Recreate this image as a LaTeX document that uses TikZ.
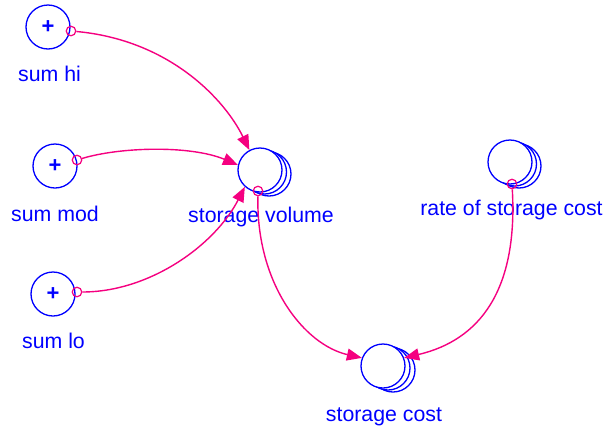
\documentclass[tikz,border=0pt]{standalone}
\usepackage{fontspec}
\setmainfont{Liberation Sans}
\usetikzlibrary{arrows.meta}
\definecolor{pk}{RGB}{245,0,128}
\begin{document}
\begin{tikzpicture}[x=1pt,y=-1pt,
  aux/.style={circle,draw=blue,line width=1.3pt,fill=white,minimum size=44pt,inner sep=0pt,text=blue,font=\fontsize{22}{22}\selectfont\bfseries},
  lab/.style={text=blue,font=\fontsize{21.3}{24}\selectfont,anchor=base,inner sep=0pt},
  tap/.style={circle,draw=pk,line width=1.2pt,minimum size=9.5pt,inner sep=0pt},
  link/.style={draw=pk,line width=1.4pt,-{Triangle[length=15pt,width=12pt]}}]
\useasboundingbox (0,0) rectangle (606,429);
\fill[white] (0,0) rectangle (606,429);
% sum hi
\node[aux] (hi) at (48,27) {+};
\node[lab] (hil) at (49.5,81) {sum hi};
% sum mod
\node[aux] (mod) at (55,166) {+};
\node[lab] (modl) at (55,221) {sum mod};
% sum lo
\node[aux] (lo) at (53,294) {+};
\node[lab] (lol) at (53.5,348) {sum lo};
% storage volume
\node[aux] (svb2) at (269,174) {};
\node[aux] (svb1) at (264.5,172) {};
\node[aux] (sv) at (260,170) {};
\node[lab] (svl) at (261,222) {storage volume};
% rate of storage cost
\node[aux] (rb2) at (519,166) {};
\node[aux] (rb1) at (514.5,164) {};
\node[aux] (r) at (510,162) {};
\node[lab] (rl) at (511.5,215) {rate of storage cost};
% storage cost
\node[aux] (scb2) at (393,370) {};
\node[aux] (scb1) at (388,368) {};
\node[aux] (sc) at (383,366) {};
\node[lab] (scl) at (384,421) {storage cost};
% taps
\node[tap] (hit) at (71,31) {};
\node[tap] (modt) at (77,160) {};
\node[tap] (lot) at (77,292) {};
\node[tap] (svt) at (258,191) {};
\node[tap] (rt) at (512,184) {};
% links
\draw[link] (hit) .. controls (170,40) and (225,100) .. (sv.118);
\draw[link] (modt) .. controls (120,147) and (190,145) .. (sv.167);
\draw[link] (lot) .. controls (150,292) and (215,245) .. (sv.228);
\draw[link] (svt) .. controls (256,285) and (305,345) .. (sc.159);
\draw[link] (rt) .. controls (518,290) and (480,340) .. (sc.21);
\end{tikzpicture}
\end{document}
